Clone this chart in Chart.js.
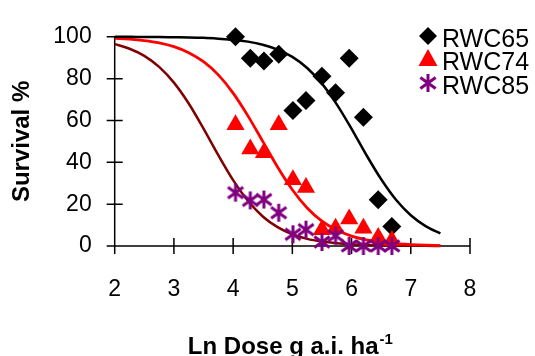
<!DOCTYPE html>
<html><head><meta charset="utf-8">
<script src="https://cdn.jsdelivr.net/npm/chart.js@4.4.1/dist/chart.umd.min.js"></script>
<style>html,body{margin:0;padding:0;background:#fff;}#wrap{width:535px;height:356px;}</style>
</head><body><div id="wrap"><canvas id="c" width="535" height="356"></canvas></div>
<script>
// ---- data ----
const doses = [4.04, 4.29, 4.52, 4.77, 5.01, 5.23, 5.50, 5.73, 5.96, 6.20, 6.45, 6.68];
const rwc65 = [100, 89.8, 88.4, 91.7, 64.8, 69.6, 81.1, 73.3, 89.8, 61.5, 22.1, 9.3];
const rwc74 = [58, 46.4, 44.6, 58, 31.7, 28, 7.8, 8.5, 12.9, 8.5, 4.1, 2.6];
const rwc85 = [25.5, 21.8, 22.2, 15.9, 5.6, 7.8, 1.9, 4.9, 0, 0, 0, 0];
const curveX = [2, 2.25, 2.5, 2.75, 3, 3.25, 3.5, 3.75, 4, 4.25, 4.5, 4.75, 5, 5.25, 5.5, 5.75, 6, 6.25, 6.5, 6.75, 7, 7.25, 7.5];
const curve65 = [100.0, 100.0, 99.9, 99.9, 99.8, 99.7, 99.5, 99.1, 98.6, 97.7, 96.2, 93.9, 90.4, 85.1, 77.6, 67.7, 56.0, 43.5, 31.9, 22.1, 14.7, 9.5, 6.0];
const curve74 = [99.3, 98.9, 98.2, 97.1, 95.3, 92.4, 88.1, 81.8, 73.1, 62.2, 50.0, 37.8, 26.9, 18.2, 11.9, 7.6, 4.7, 2.9, 1.8, 1.1, 0.7, 0.4, 0.2];
const curve85 = [96.5, 94.3, 90.9, 85.6, 78.1, 68.1, 56.1, 43.4, 31.5, 21.6, 14.1, 9.0, 5.6, 3.4, 2.1, 1.3, 0.8, 0.5, 0.3, 0.2, 0.1, 0.1, 0.0];
const seriesNames = ['RWC65', 'RWC74', 'RWC85'];
const xTicks = [2, 3, 4, 5, 6, 7, 8];
const yTicks = [0, 20, 40, 60, 80, 100];
const xTitle = 'Ln Dose g a.i. ha';
const xTitleSup = '-1';
const yTitle = 'Survival %';

const FONT = '"Liberation Sans", Arial, Helvetica, sans-serif';

function makeStar(color, size, lw) {
  const c = document.createElement('canvas');
  c.width = size; c.height = size;
  const g = c.getContext('2d');
  g.strokeStyle = color; g.lineWidth = lw; g.lineCap = 'butt';
  const m = size / 2, r = size / 2 - 1;
  g.beginPath();
  g.moveTo(m, m - r); g.lineTo(m, m + r);
  const dx = r * 0.85, dy = r * 0.62;
  g.moveTo(m - dx, m - dy); g.lineTo(m + dx, m + dy);
  g.moveTo(m - dx, m + dy); g.lineTo(m + dx, m - dy);
  g.stroke();
  return c;
}
const starImg = makeStar('#800080', 20, 3);

const pts = (xs, ys) => xs.map((x, i) => ({x, y: ys[i]}));

const axesPlugin = {
  id: 'axesPlugin',
  beforeDatasetsDraw(chart) {
    const {ctx, scales: {x, y}} = chart;
    ctx.save();
    ctx.strokeStyle = '#000'; ctx.lineWidth = 1.5;
    const x0 = x.getPixelForValue(xTicks[0]);
    const y0 = y.getPixelForValue(yTicks[0]);
    ctx.beginPath();
    ctx.moveTo(x0, y0); ctx.lineTo(x0, y.getPixelForValue(yTicks[yTicks.length - 1]));
    ctx.moveTo(x0, y0); ctx.lineTo(x.getPixelForValue(xTicks[xTicks.length - 1]), y0);
    yTicks.forEach(v => { const p = y.getPixelForValue(v); ctx.moveTo(x0 - 8, p); ctx.lineTo(x0 + 8, p); });
    xTicks.forEach(v => { const p = x.getPixelForValue(v); ctx.moveTo(p, y0 - 8); ctx.lineTo(p, y0 + 8); });
    ctx.stroke();
    ctx.restore();
  },
  afterDraw(chart) {
    const {ctx, chartArea} = chart;
    ctx.save();
    // x-axis title with superscript
    ctx.fillStyle = '#000';
    ctx.textBaseline = 'alphabetic';
    ctx.font = 'bold 24px ' + FONT;
    const w1 = ctx.measureText(xTitle).width;
    ctx.font = 'bold 15px ' + FONT;
    const w2 = ctx.measureText(xTitleSup).width;
    const cx = (chartArea.left + chartArea.right) / 2 - 2;
    const sx = cx - (w1 + w2 + 1) / 2;
    ctx.font = 'bold 24px ' + FONT;
    ctx.textAlign = 'left';
    ctx.fillText(xTitle, sx, 354);
    ctx.font = 'bold 15px ' + FONT;
    ctx.fillText(xTitleSup, sx + w1 + 1, 344);

    // legend
    const mx = 428, tx = 442;
    const rows = [{my: 36, ty: 47}, {my: 59, ty: 70}, {my: 83, ty: 93.5}];
    ctx.font = '25px ' + FONT;
    rows.forEach((r, i) => {
      ctx.fillStyle = ['#000', '#ff0000'][i] || '#800080';
      if (i === 0) {
        ctx.beginPath();
        ctx.moveTo(mx, r.my - 9); ctx.lineTo(mx + 9, r.my); ctx.lineTo(mx, r.my + 9); ctx.lineTo(mx - 9, r.my);
        ctx.closePath(); ctx.fill();
      } else if (i === 1) {
        ctx.beginPath();
        ctx.moveTo(mx, r.my - 10); ctx.lineTo(mx + 9.5, r.my + 7); ctx.lineTo(mx - 9.5, r.my + 7);
        ctx.closePath(); ctx.fill();
      } else {
        ctx.drawImage(starImg, mx - starImg.width / 2, r.my - starImg.height / 2);
      }
      ctx.fillStyle = '#000';
      ctx.fillText(seriesNames[i], tx, r.ty);
    });
    ctx.restore();
  }
};

new Chart(document.getElementById('c'), {
  type: 'scatter',
  data: {
    datasets: [
      {label: 'fit65', type: 'line', data: pts(curveX, curve65), borderColor: '#000000', borderWidth: 2.5, pointRadius: 0, fill: false, cubicInterpolationMode: 'monotone', order: 2, clip: false},
      {label: 'fit74', type: 'line', data: pts(curveX, curve74), borderColor: '#ff0000', borderWidth: 2.8, pointRadius: 0, fill: false, cubicInterpolationMode: 'monotone', order: 2, clip: false},
      {label: 'fit85', type: 'line', data: pts(curveX, curve85), borderColor: '#800000', borderWidth: 2.5, pointRadius: 0, fill: false, cubicInterpolationMode: 'monotone', order: 2, clip: false},
      {label: seriesNames[0], data: pts(doses, rwc65), pointStyle: 'rectRot', pointRadius: 9.5, backgroundColor: '#000', borderColor: '#000', borderWidth: 0, order: 1, clip: false},
      {label: seriesNames[1], data: pts(doses, rwc74), pointStyle: 'triangle', pointRadius: 10.5, backgroundColor: '#ff0000', borderColor: '#ff0000', borderWidth: 0, order: 0, clip: false},
      {label: seriesNames[2], data: pts(doses, rwc85), pointStyle: starImg, pointRadius: 10, backgroundColor: '#800080', borderColor: '#800080', order: -1, clip: false}
    ]
  },
  options: {
    responsive: false,
    animation: false,
    devicePixelRatio: 1,
    layout: {padding: {top: 19.5, right: 65, left: 0, bottom: 0}},
    plugins: {legend: {display: false}, tooltip: {enabled: false}},
    scales: {
      x: {
        type: 'linear', min: 2, max: 8,
        afterBuildTicks: s => { s.ticks = xTicks.map(v => ({value: v})); },
        afterFit: s => { s.height = 110; },
        grid: {display: false, drawTicks: false},
        border: {display: false},
        ticks: {color: '#000', font: {family: FONT, size: 23}, padding: 30, maxRotation: 0}
      },
      y: {
        type: 'linear', min: 0, max: 100,
        afterBuildTicks: s => { s.ticks = yTicks.map(v => ({value: v})); },
        afterFit: s => { s.width = 114.7; },
        grid: {display: false, drawTicks: false},
        border: {display: false},
        title: {display: true, text: yTitle, color: '#000', font: {family: FONT, size: 24, weight: 'bold'}, padding: {top: 8, bottom: 0}},
        ticks: {color: '#000', font: {family: FONT, size: 23}, padding: 23}
      }
    }
  },
  plugins: [axesPlugin]
});
</script></body></html>
